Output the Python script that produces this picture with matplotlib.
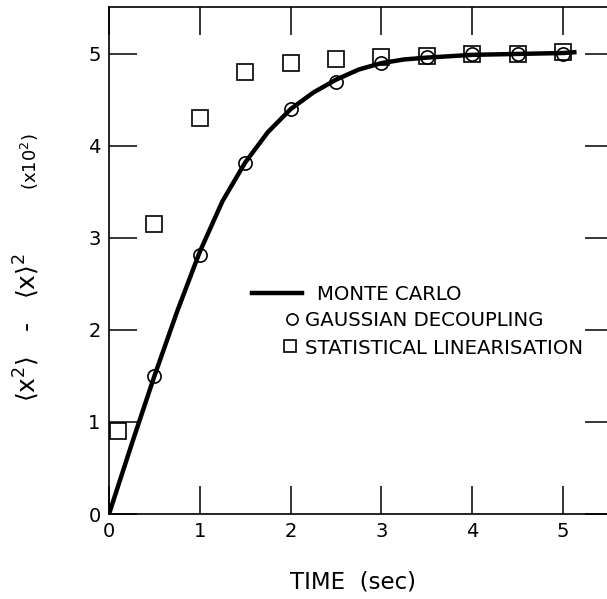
import matplotlib
matplotlib.use("Agg")
import matplotlib.pyplot as plt

mc_t = [0.0, 0.25, 0.5, 0.75, 1.0, 1.25, 1.5, 1.75, 2.0, 2.25, 2.5, 2.75, 3.0, 3.25, 3.5, 4.0, 4.5, 5.0, 5.15]
mc_v = [0.0, 0.76, 1.5, 2.2, 2.85, 3.4, 3.82, 4.15, 4.4, 4.58, 4.72, 4.83, 4.9, 4.94, 4.96, 4.99, 5.0, 5.01, 5.02]

gd_t = [0.5, 1.0, 1.5, 2.0, 2.5, 3.0, 3.5, 4.0, 4.5, 5.0]
gd_v = [1.5, 2.82, 3.82, 4.4, 4.7, 4.9, 4.97, 5.0, 5.0, 5.0]

sl_t = [0.1, 0.5, 1.0, 1.5, 2.0, 2.5, 3.0, 3.5, 4.0, 4.5, 5.0]
sl_v = [0.9, 3.15, 4.3, 4.8, 4.9, 4.95, 4.97, 4.98, 5.0, 5.0, 5.02]

xticks = [0, 1, 2, 3, 4, 5]
yticks = [0, 1, 2, 3, 4, 5]
legend_labels = ['MONTE CARLO', 'GAUSSIAN DECOUPLING', 'STATISTICAL LINEARISATION']

plt.rcParams['font.family'] = ['DejaVu Sans']
fig = plt.figure(figsize=(6.07, 5.99), dpi=100)
ax = fig.add_axes([0.1796, 0.1419, 0.83, 0.8464])

ax.plot(mc_t, mc_v, color='black', lw=3.2, solid_capstyle='butt', zorder=3)
ax.plot(gd_t, gd_v, ls='none', marker='o', ms=9.5, mfc='none', mec='black', mew=1.2, zorder=4)
ax.plot(sl_t, sl_v, ls='none', marker='s', ms=11, mfc='none', mec='black', mew=1.2, zorder=4)

ax.set_xlim(0, 5.55)
ax.set_ylim(0, 5.51)
ax.set_xticks(xticks)
ax.set_yticks(yticks)
ax.tick_params(direction='in', length=20, width=1.1, labelsize=14, top=True, right=True, pad=6)
ax.spines['right'].set_visible(False)
for s in ['left', 'top', 'bottom']:
    ax.spines[s].set_linewidth(1.2)

fig.text(0.582, 0.028, 'TIME  (sec)', fontsize=16.5, ha='center', va='center')
fig.text(0.043, 0.454, r'$\langle\mathregular{x}^2\rangle$   -   $\langle\mathregular{x}\rangle^2$',
         rotation=90, fontsize=18, ha='center', va='center')
fig.text(0.05, 0.73, r'(x10$^2$)', rotation=90, fontsize=13, ha='center', va='center')

# hand-drawn legend (as in the reference)
tr = ax.transAxes
fs = 14.2
ax.plot([0.284, 0.383], [0.436, 0.436], color='black', lw=3.2, transform=tr, clip_on=False)
ax.text(0.413, 0.436, legend_labels[0], transform=tr, fontsize=fs, va='center_baseline', ha='left')
ax.plot([0.363], [0.385], marker='o', ms=8, mfc='none', mec='black', mew=1.2, transform=tr)
ax.text(0.389, 0.385, legend_labels[1], transform=tr, fontsize=fs, va='center_baseline', ha='left')
ax.plot([0.359], [0.331], marker='s', ms=9, mfc='none', mec='black', mew=1.2, transform=tr)
ax.text(0.389, 0.331, legend_labels[2], transform=tr, fontsize=fs, va='center_baseline', ha='left')

fig.savefig('out.png', dpi=100)
